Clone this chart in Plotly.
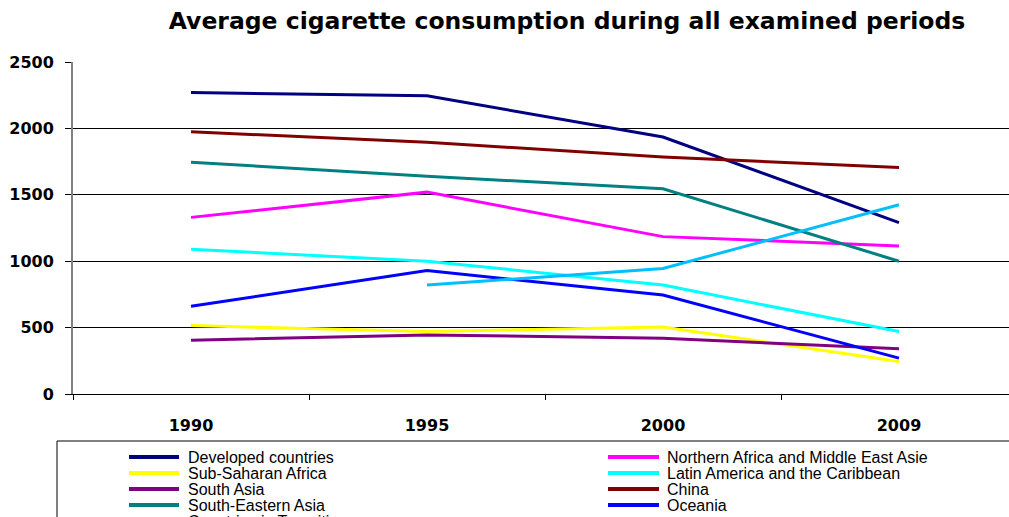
import plotly.graph_objects as go

# Survey years (categorical x axis)
years = ["1990", "1995", "2000", "2009"]

# Average cigarette consumption per region
developed = [2270, 2245, 1935, 1290]
n_africa_me = [1330, 1520, 1185, 1115]
sub_saharan = [515, 470, 505, 245]
latin_america = [1090, 1000, 820, 470]
south_asia = [405, 445, 420, 340]
china = [1975, 1895, 1785, 1705]
se_asia = [1745, 1640, 1545, 1000]
oceania = [660, 930, 745, 270]
transition = [None, 820, 945, 1425]

series_names = [
    "Developed countries",
    "Northern Africa and Middle East Asie",
    "Sub-Saharan Africa",
    "Latin America and the Caribbean",
    "South Asia",
    "China",
    "South-Eastern Asia",
    "Oceania",
    "Countries in Transition",
]
series_values = [developed, n_africa_me, sub_saharan, latin_america, south_asia,
                 china, se_asia, oceania, transition]
series_colors = ["#000080", "#FF00FF", "#FFFF00", "#00FFFF", "#800080",
                 "#800000", "#008080", "#0000FF", "#00BFFF"]

y_ticks = [0, 500, 1000, 1500, 2000, 2500]

W, H = 1009, 517
L, T, B = 73, 62, 123
plot_w = W - L
plot_h = H - T - B


def px_x(px):
    return (px - L) / plot_w


def px_y(py):
    return (H - B - py) / plot_h


fig = go.Figure()
for name, vals, col in zip(series_names, series_values, series_colors):
    fig.add_trace(go.Scatter(
        x=years, y=vals, name=name, mode="lines",
        line=dict(color=col, width=3), connectgaps=False, showlegend=False,
    ))

tick_font = dict(family="DejaVu Sans", size=16, color="#000000")

fig.update_layout(
    width=W, height=H,
    margin=dict(l=L, r=0, t=T, b=B, pad=0),
    paper_bgcolor="white", plot_bgcolor="white",
    title=dict(
        text="<b>Average cigarette consumption during all examined periods</b>",
        font=dict(family="DejaVu Sans", size=23.5, color="#000000"),
        x=px_x(567), xref="paper", xanchor="center",
        y=1 - 21 / H, yref="container", yanchor="middle",
    ),
    xaxis=dict(
        type="category", range=[-0.5, -0.5 + plot_w / 236],
        tickson="boundaries", ticks="outside", ticklen=5, tickcolor="#000000",
        showline=True, linecolor="#000000", linewidth=1,
        showgrid=False, tickfont=tick_font,
        tickvals=years, ticktext=["<b>%s</b>" % y for y in years],
        ticklabelstandoff=17,
    ),
    yaxis=dict(
        range=[0, 2500], tickvals=y_ticks,
        ticktext=["<b>%d</b>" % v for v in y_ticks],
        ticks="outside", ticklen=6, tickcolor="#000000",
        showline=True, linecolor="#808080", linewidth=2,
        showgrid=True, gridcolor="#000000", gridwidth=1,
        zeroline=False, tickfont=tick_font, ticklabelstandoff=8,
    ),
)

# Legend frame
fig.add_shape(type="rect", xref="paper", yref="paper",
              x0=px_x(57), x1=px_x(1030), y0=px_y(441), y1=px_y(560),
              line=dict(color="#000000", width=1), fillcolor="white", layer="below")

# Two-column legend entries
col_line = [(129, 179), (608, 659)]
col_text = [186, 665]
row_y = [457, 473, 489, 505, 521]
legend_font = dict(family="Liberation Sans Narrow, Arial Narrow, sans-serif", size=16, color="#000000")
for i, (name, col) in enumerate(zip(series_names, series_colors)):
    r, c = divmod(i, 2)
    yy = px_y(row_y[r])
    fig.add_shape(type="line", xref="paper", yref="paper",
                  x0=px_x(col_line[c][0]), x1=px_x(col_line[c][1]), y0=yy, y1=yy,
                  line=dict(color=col, width=4))
    fig.add_annotation(text=name, xref="paper", yref="paper",
                       x=px_x(col_text[c]), y=yy, xanchor="left", yanchor="middle",
                       showarrow=False, font=legend_font)

fig.write_html("out.html")
